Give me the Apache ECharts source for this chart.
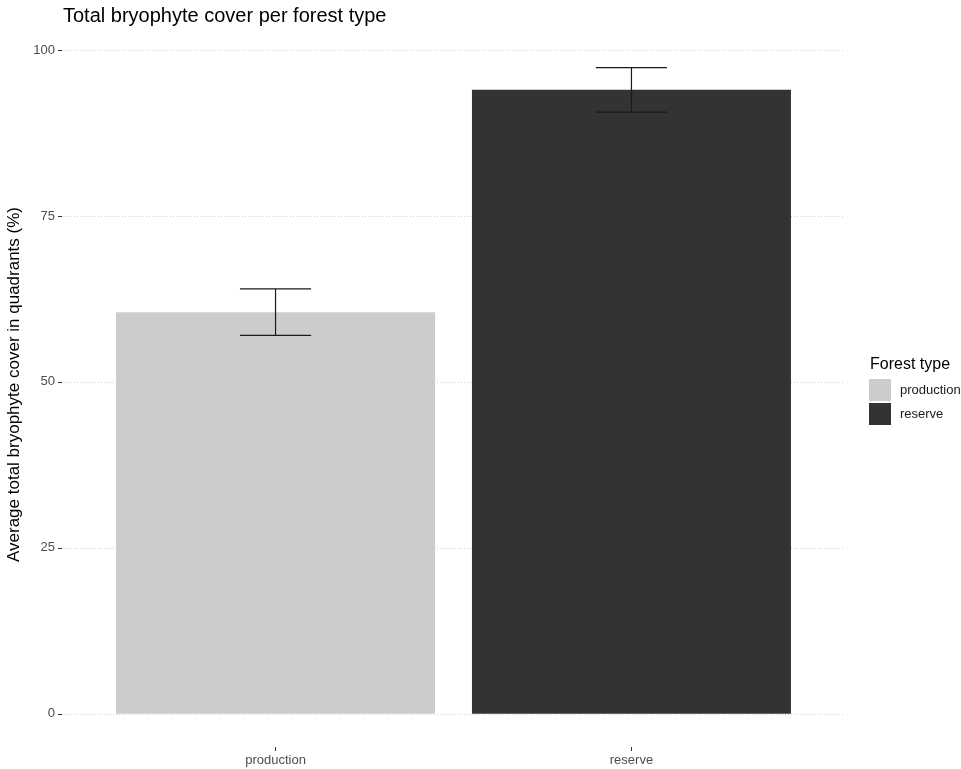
<!DOCTYPE html>
<html>
<head>
<meta charset="utf-8">
<script src="https://cdn.jsdelivr.net/npm/echarts@6/dist/echarts.min.js"></script>
<style>
  html, body { margin: 0; padding: 0; background: #fff; }
  #chart { width: 961px; height: 769px; }
</style>
</head>
<body>
<div id="chart"></div>
<script>
// Forest types and their mean total bryophyte cover (%) with standard error
const categories = ['production', 'reserve'];
const meanCover = [60.5, 94.0];
const seCover = [3.5, 3.35];
const barColors = ['#cccccc', '#333333'];
const yTicks = [0, 25, 50, 75, 100];

const FONT = 'Liberation Sans, Arial, sans-serif';

// Categories sit at positions 1..n on a continuous x scale (0.6 padding each side)
const positions = categories.map((c, i) => i + 1);

const barSeries = categories.map((name, i) => ({
  name: name,
  type: 'bar',
  data: [[positions[i], meanCover[i]]],
  barWidth: 319,
  barGap: '-100%',
  itemStyle: { color: barColors[i] },
  silent: true
}));

const errorSeries = {
  type: 'custom',
  silent: true,
  z: 5,
  data: categories.map((c, i) => [positions[i], meanCover[i] - seCover[i], meanCover[i] + seCover[i]]),
  renderItem: function (params, api) {
    const x = api.value(0);
    const lo = api.coord([x, api.value(1)]);
    const hi = api.coord([x, api.value(2)]);
    const half = api.size([0.2, 0])[0] / 2;
    const style = { stroke: '#1a1a1a', lineWidth: 1.2, fill: null };
    return {
      type: 'group',
      children: [
        { type: 'line', shape: { x1: lo[0], y1: lo[1], x2: hi[0], y2: hi[1] }, style: style },
        { type: 'line', shape: { x1: hi[0] - half, y1: hi[1], x2: hi[0] + half, y2: hi[1] }, style: style },
        { type: 'line', shape: { x1: lo[0] - half, y1: lo[1], x2: lo[0] + half, y2: lo[1] }, style: style }
      ]
    };
  }
};

const chart = echarts.init(document.getElementById('chart'), null, { renderer: 'canvas' });
chart.setOption({
  animation: false,
  backgroundColor: '#ffffff',
  textStyle: { fontFamily: FONT },
  title: [
    {
      text: 'Total bryophyte cover per forest type',
      left: 63, top: 6, padding: 0,
      textStyle: { fontFamily: FONT, fontSize: 20, fontWeight: 'normal', color: '#000000' }
    },
    {
      text: 'Forest type',
      left: 870, top: 357, padding: 0,
      textStyle: { fontFamily: FONT, fontSize: 16, fontWeight: 'normal', color: '#000000' }
    }
  ],
  legend: {
    data: categories,
    orient: 'vertical',
    left: 869, top: 379,
    padding: 0,
    itemWidth: 22, itemHeight: 22, itemGap: 2,
    icon: 'rect',
    selectedMode: false,
    textStyle: { fontFamily: FONT, fontSize: 13, color: '#1a1a1a', padding: [0, 0, 0, 4] }
  },
  grid: { left: 62, right: 116, top: 50, bottom: 22, containLabel: false, outerBoundsMode: 'none' },
  xAxis: {
    type: 'value',
    min: 0.4, max: 2.6,
    axisLine: { show: false, onZero: false },
    splitLine: { show: false },
    axisTick: { show: true, customValues: positions, length: 4, lineStyle: { color: '#333333', width: 1 } },
    axisLabel: {
      customValues: positions,
      margin: 7,
      fontFamily: FONT, fontSize: 13, color: '#4d4d4d',
      formatter: v => categories[Math.round(v) - 1] || ''
    }
  },
  yAxis: {
    type: 'value',
    min: -5, max: 100,
    name: 'Average total bryophyte cover in quadrants (%)',
    nameLocation: 'middle',
    nameGap: 19,
    nameTextStyle: { fontFamily: FONT, fontSize: 17, color: '#000000', padding: [0, 0, 0, 28] },
    axisLine: { show: false },
    axisTick: { show: true, customValues: yTicks, length: 4, lineStyle: { color: '#333333', width: 1 } },
    axisLabel: {
      customValues: yTicks,
      margin: 7,
      fontFamily: FONT, fontSize: 13, color: '#4d4d4d'
    },
    splitLine: { show: true, lineStyle: { color: '#d0d0d0', type: [1, 2], width: 1 } }
  },
  series: barSeries.concat([errorSeries])
});
</script>
</body>
</html>
